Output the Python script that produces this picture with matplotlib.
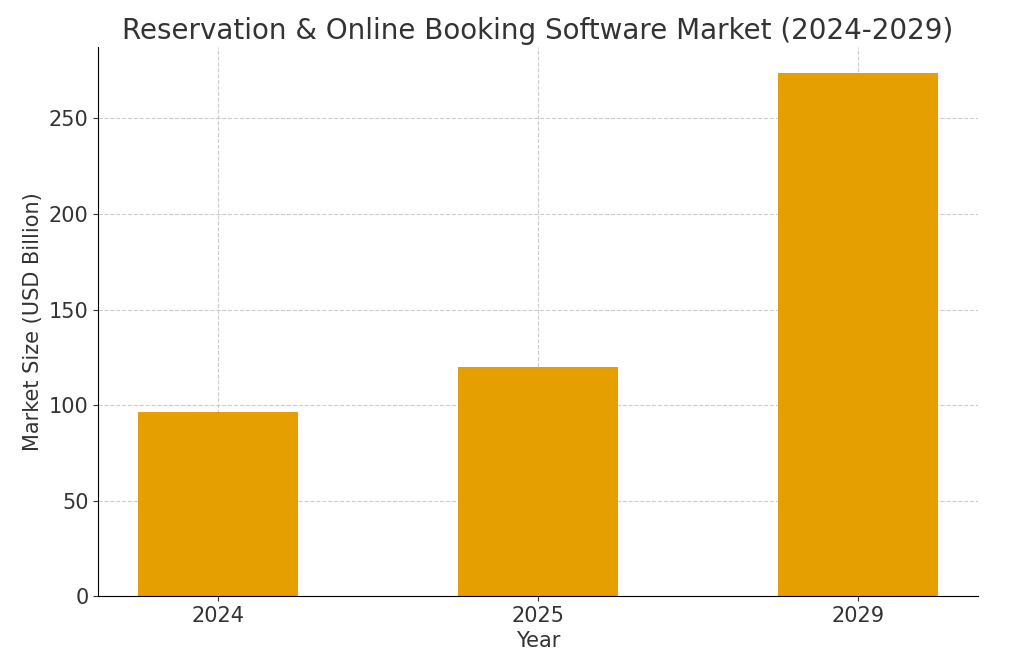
import matplotlib
matplotlib.use("Agg")
import matplotlib.pyplot as plt

years = ["2024", "2025", "2029"]
market_size = [96.3, 120.0, 273.7]

plt.rcParams["text.color"] = "#333333"
plt.rcParams["axes.labelcolor"] = "#333333"
plt.rcParams["xtick.color"] = "#333333"
plt.rcParams["ytick.color"] = "#333333"

fig, ax = plt.subplots(figsize=(10.24, 6.72), dpi=100)
ax.bar(years, market_size, color="#E69F00", width=0.5, zorder=2)
ax.set_title("Reservation & Online Booking Software Market (2024-2029)", fontsize=20)
ax.set_xlabel("Year", fontsize=15)
ax.set_ylabel("Market Size (USD Billion)", fontsize=15)
ax.tick_params(labelsize=15)
ax.grid(True, linestyle="--", color="#cccccc", zorder=0)
ax.spines["top"].set_visible(False)
ax.spines["right"].set_visible(False)
fig.subplots_adjust(left=0.096, right=0.955, top=0.93, bottom=0.113)
fig.savefig("out.png", dpi=100)
